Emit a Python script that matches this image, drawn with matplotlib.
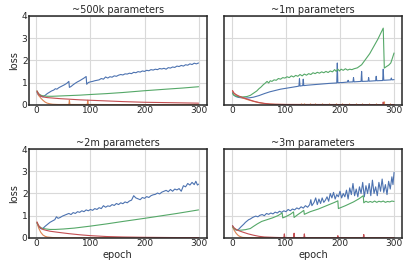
import matplotlib
matplotlib.use('Agg')
import matplotlib.pyplot as plt
import seaborn as sns

# (epoch, loss) knots, one list per curve
# ~500k parameters
blue_500k = [(1, 0.55), (4, 0.42), (8, 0.37), (12, 0.36), (16, 0.42), (20, 0.5), (24, 0.56), (28, 0.62),
             (32, 0.66), (35, 0.72), (38, 0.7), (41, 0.76), (44, 0.8), (48, 0.85), (52, 0.9), (56, 0.96),
             (60, 1.05), (61, 0.78), (64, 0.82), (68, 0.9), (72, 0.97), (76, 1.03), (80, 1.08), (84, 1.14),
             (88, 1.2), (92, 1.27), (93, 0.92), (96, 1.0), (100, 1.03), (104, 1.05), (108, 1.08), (112, 1.1),
             (116, 1.12), (120, 1.18), (124, 1.15), (128, 1.25), (132, 1.2), (136, 1.26), (140, 1.24),
             (144, 1.3), (148, 1.28), (152, 1.33), (156, 1.36), (160, 1.34), (164, 1.39), (168, 1.38),
             (172, 1.42), (176, 1.4), (180, 1.46), (184, 1.44), (188, 1.49), (192, 1.47), (196, 1.52),
             (200, 1.5), (204, 1.55), (208, 1.53), (212, 1.58), (216, 1.56), (220, 1.6), (224, 1.58),
             (228, 1.63), (232, 1.61), (236, 1.64), (240, 1.6), (244, 1.67), (248, 1.65), (252, 1.7),
             (256, 1.68), (260, 1.74), (264, 1.72), (268, 1.77), (272, 1.74), (276, 1.8), (280, 1.78),
             (284, 1.84), (288, 1.81), (292, 1.87), (296, 1.84), (300, 1.88)]
green_500k = [(1, 0.62), (4, 0.5), (8, 0.43), (12, 0.4), (20, 0.38), (30, 0.38), (40, 0.39), (60, 0.41),
              (80, 0.43), (100, 0.46), (130, 0.5), (160, 0.55), (200, 0.63), (240, 0.7), (270, 0.75),
              (300, 0.81)]
red_500k = [(1, 0.62), (4, 0.48), (8, 0.4), (12, 0.35), (20, 0.32), (30, 0.3), (45, 0.27), (60, 0.25),
            (80, 0.22), (100, 0.2), (130, 0.17), (160, 0.14), (200, 0.11), (250, 0.09), (300, 0.07)]
orange_500k = [(1, 0.6), (4, 0.42), (8, 0.3), (12, 0.2), (16, 0.12), (20, 0.07), (25, 0.04), (30, 0.02),
               (40, 0.01), (60, 0.01), (61, 0.2), (62, 0.01), (94, 0.01), (95, 0.2), (96, 0.01),
               (150, 0.005), (300, 0.005)]

# ~1m parameters
blue_1m = [(1, 0.55), (4, 0.42), (8, 0.36), (12, 0.33), (18, 0.31), (25, 0.3), (32, 0.31), (40, 0.34),
           (50, 0.41), (60, 0.5), (70, 0.58), (80, 0.64), (90, 0.7), (100, 0.74), (110, 0.78), (120, 0.82),
           (124, 0.84), (125, 1.17), (126, 0.84), (131, 0.86), (132, 1.15), (133, 0.86), (140, 0.88),
           (150, 0.9), (160, 0.92), (170, 0.94), (180, 0.96), (194, 0.98), (195, 1.88), (196, 0.99),
           (205, 1.0), (214, 1.02), (215, 1.1), (216, 1.02), (224, 1.03), (225, 1.22), (226, 1.03),
           (239, 1.05), (240, 1.5), (241, 1.05), (252, 1.06), (253, 1.22), (254, 1.06), (266, 1.08),
           (267, 1.28), (268, 1.08), (279, 1.09), (280, 1.6), (281, 1.1), (294, 1.12), (295, 1.2),
           (296, 1.12), (300, 1.13)]
green_1m = [(1, 0.5), (4, 0.42), (8, 0.38), (12, 0.36), (20, 0.35), (28, 0.37), (34, 0.42), (40, 0.52),
            (46, 0.62), (50, 0.72), (54, 0.8), (58, 0.9), (62, 0.98), (65, 1.05), (68, 0.98), (71, 1.08),
            (74, 1.05), (78, 1.12), (82, 1.1), (86, 1.18), (90, 1.15), (94, 1.22), (98, 1.2), (102, 1.26),
            (106, 1.22), (110, 1.3), (114, 1.25), (118, 1.32), (122, 1.28), (126, 1.36), (130, 1.3),
            (134, 1.38), (138, 1.33), (142, 1.4), (146, 1.36), (150, 1.44), (154, 1.4), (158, 1.46),
            (162, 1.42), (166, 1.48), (170, 1.44), (174, 1.5), (178, 1.45), (182, 1.52), (186, 1.48),
            (190, 1.58), (193, 1.5), (196, 1.6), (199, 1.52), (202, 1.6), (206, 1.55), (210, 1.62),
            (214, 1.56), (218, 1.6), (222, 1.58), (226, 1.62), (232, 1.66), (240, 1.8), (255, 2.3),
            (270, 2.95), (280, 3.45), (282, 1.65), (286, 1.72), (290, 1.78), (294, 1.88), (297, 2.1),
            (300, 2.33)]
red_1m = [(1, 0.64), (4, 0.52), (8, 0.45), (12, 0.4), (20, 0.32), (30, 0.24), (40, 0.16), (50, 0.1),
          (60, 0.06), (70, 0.03), (80, 0.02), (100, 0.01), (279, 0.005), (280, 0.12), (281, 0.005),
          (300, 0.005)]
orange_1m = [(1, 0.6), (4, 0.5), (8, 0.43), (12, 0.38), (20, 0.3), (30, 0.22), (40, 0.15), (50, 0.09),
             (60, 0.05), (70, 0.03), (80, 0.015), (100, 0.01), (300, 0.005)]
orange_1m_spike_ep = [127, 133, 145, 154, 167, 179, 192, 204, 216, 229, 241, 253, 266, 281, 293]
orange_1m_spike_h = [0.08, 0.07, 0.08, 0.07, 0.08, 0.07, 0.08, 0.07, 0.09, 0.07, 0.08, 0.07, 0.08, 0.15, 0.08]

# ~2m parameters
blue_2m = [(1, 0.68), (4, 0.52), (7, 0.43), (10, 0.4), (13, 0.45), (16, 0.52), (19, 0.58), (22, 0.64),
           (25, 0.7), (28, 0.74), (31, 0.78), (34, 0.82), (37, 0.95), (40, 0.88), (44, 0.92), (48, 0.98),
           (52, 1.02), (56, 1.06), (60, 1.1), (64, 1.05), (68, 1.14), (72, 1.1), (76, 1.18), (80, 1.15),
           (84, 1.22), (88, 1.18), (92, 1.26), (96, 1.22), (100, 1.28), (104, 1.24), (108, 1.32),
           (112, 1.28), (116, 1.36), (120, 1.32), (124, 1.45), (128, 1.38), (132, 1.44), (136, 1.42),
           (140, 1.5), (144, 1.46), (148, 1.55), (152, 1.5), (156, 1.58), (160, 1.54), (164, 1.62),
           (168, 1.58), (172, 1.66), (176, 1.7), (180, 1.9), (184, 1.8), (188, 1.76), (192, 1.72),
           (196, 1.82), (200, 1.78), (204, 1.86), (208, 1.82), (212, 1.9), (216, 1.94), (220, 1.96),
           (224, 2.02), (228, 1.98), (232, 2.06), (236, 2.1), (240, 2.14), (244, 2.08), (248, 2.18),
           (252, 2.1), (256, 2.2), (260, 2.16), (264, 2.22), (268, 2.1), (272, 2.35), (276, 2.3),
           (280, 2.45), (284, 2.38), (288, 2.5), (292, 2.4), (295, 2.55), (298, 2.38), (300, 2.42)]
green_2m = [(1, 0.68), (4, 0.55), (8, 0.46), (12, 0.42), (18, 0.4), (25, 0.38), (35, 0.38), (50, 0.4),
            (70, 0.44), (100, 0.53), (130, 0.63), (160, 0.74), (200, 0.88), (230, 0.99), (260, 1.1),
            (280, 1.18), (300, 1.26)]
red_2m = [(1, 0.72), (4, 0.55), (8, 0.45), (12, 0.38), (18, 0.34), (25, 0.3), (40, 0.25), (60, 0.19),
          (80, 0.14), (100, 0.1), (130, 0.06), (160, 0.04), (200, 0.025), (250, 0.015), (300, 0.01)]
orange_2m = [(1, 0.7), (4, 0.45), (8, 0.25), (12, 0.13), (16, 0.07), (20, 0.04), (30, 0.015), (50, 0.005),
             (300, 0.002)]

# ~3m parameters
blue_3m = [(1, 0.55), (4, 0.42), (7, 0.36), (10, 0.35), (13, 0.4), (16, 0.48), (19, 0.55), (22, 0.62),
           (25, 0.7), (28, 0.76), (31, 0.82), (34, 0.85), (37, 0.9), (40, 0.94), (44, 0.98), (48, 0.95),
           (52, 1.02), (56, 1.05), (60, 1.0), (64, 1.1), (68, 1.06), (72, 1.12), (76, 1.08), (80, 1.16),
           (84, 1.12), (88, 1.2), (92, 1.15), (96, 1.22), (100, 1.18), (104, 1.28), (108, 1.22),
           (112, 1.3), (116, 1.26), (120, 1.35), (124, 1.3), (128, 1.4), (132, 1.34), (136, 1.45),
           (140, 1.38), (144, 1.5), (146, 1.72), (148, 1.45), (152, 1.6), (155, 1.8), (158, 1.5),
           (161, 1.75), (164, 1.55), (167, 1.8), (170, 1.6), (173, 1.7), (176, 1.85), (179, 1.65),
           (182, 2.0), (185, 1.8), (188, 2.05), (191, 1.75), (194, 1.95), (197, 1.85), (200, 2.1),
           (203, 1.8), (206, 2.0), (209, 1.85), (212, 2.15), (215, 1.75), (218, 2.25), (221, 1.95),
           (224, 2.45), (227, 1.9), (230, 2.2), (233, 1.85), (236, 2.3), (239, 2.0), (242, 2.5),
           (245, 1.85), (248, 2.35), (251, 2.0), (254, 2.45), (257, 1.9), (260, 2.6), (263, 2.0),
           (266, 2.3), (269, 1.9), (272, 2.5), (275, 2.1), (278, 2.65), (281, 2.05), (284, 2.4),
           (287, 1.95), (290, 2.55), (293, 2.2), (296, 2.75), (298, 2.4), (300, 2.95)]
green_3m = [(1, 0.5), (4, 0.42), (8, 0.36), (12, 0.34), (18, 0.35), (25, 0.37), (34, 0.42), (40, 0.52),
            (47, 0.63), (55, 0.74), (65, 0.82), (75, 0.9), (85, 1.0), (93, 1.12), (94, 0.9), (100, 0.96),
            (108, 1.06), (114, 1.17), (115, 0.92), (122, 1.05), (128, 1.15), (133, 1.24), (134, 1.06),
            (145, 1.18), (160, 1.3), (175, 1.45), (190, 1.6), (196, 1.67), (197, 1.32), (210, 1.45),
            (225, 1.62), (235, 1.76), (243, 1.9), (244, 1.58), (248, 1.65), (252, 1.6), (256, 1.64),
            (260, 1.6), (264, 1.66), (268, 1.6), (272, 1.65), (276, 1.62), (280, 1.66), (284, 1.6),
            (288, 1.64), (292, 1.62), (296, 1.66), (300, 1.64)]
red_3m = [(1, 0.55), (4, 0.45), (8, 0.38), (12, 0.33), (20, 0.26), (30, 0.18), (40, 0.12), (50, 0.07),
          (60, 0.04), (80, 0.02), (96, 0.01), (97, 0.18), (98, 0.01), (114, 0.01), (115, 0.21), (116, 0.01),
          (133, 0.01), (134, 0.18), (135, 0.01), (195, 0.005), (196, 0.1), (197, 0.005), (243, 0.005),
          (244, 0.15), (245, 0.005), (300, 0.005)]
orange_3m = [(1, 0.5), (4, 0.35), (8, 0.2), (12, 0.1), (16, 0.05), (20, 0.02), (30, 0.01), (300, 0.005)]

titles = ['~500k parameters', '~1m parameters', '~2m parameters', '~3m parameters']
panels = [
    (blue_500k, orange_500k, green_500k, red_500k),
    (blue_1m, orange_1m, green_1m, red_1m),
    (blue_2m, orange_2m, green_2m, red_2m),
    (blue_3m, orange_3m, green_3m, red_3m),
]

sns.set_theme(style='whitegrid')
plt.rcParams['font.family'] = ['DejaVu Sans']
plt.rcParams['axes.edgecolor'] = '0.15'
plt.rcParams['axes.linewidth'] = 1.1
colors = sns.color_palette('deep')

fig, axes = plt.subplots(2, 2, figsize=(4.07, 2.70), dpi=100, sharey=True)
fig.subplots_adjust(left=0.071, right=0.988, top=0.941, bottom=0.119, wspace=0.10, hspace=0.50)

for ax, title, curves in zip(axes.flat, titles, panels):
    # draw order: blue, orange, green, red
    for curve, c in zip(curves, [colors[0], colors[1], colors[2], colors[3]]):
        ep = [p[0] for p in curve]
        loss = [p[1] for p in curve]
        ax.plot(ep, loss, color=c, lw=0.8)
    if title == '~1m parameters':
        ax.vlines(orange_1m_spike_ep, 0, orange_1m_spike_h, color=colors[1], lw=0.8)
    ax.set_title(title, fontsize=7, pad=2)
    ax.set_ylim(0, 4)
    ax.set_xticks([0, 100, 200, 300])
    ax.set_yticks([0, 1, 2, 3, 4])
    ax.tick_params(labelsize=6.5, pad=1, length=0)
    ax.grid(color='0.85', lw=0.8)

for ax in axes[:, 0]:
    ax.set_ylabel('loss', fontsize=7, labelpad=2)
for ax in axes[1, :]:
    ax.set_xlabel('epoch', fontsize=7, labelpad=1)

fig.savefig('out.png', dpi=100)
